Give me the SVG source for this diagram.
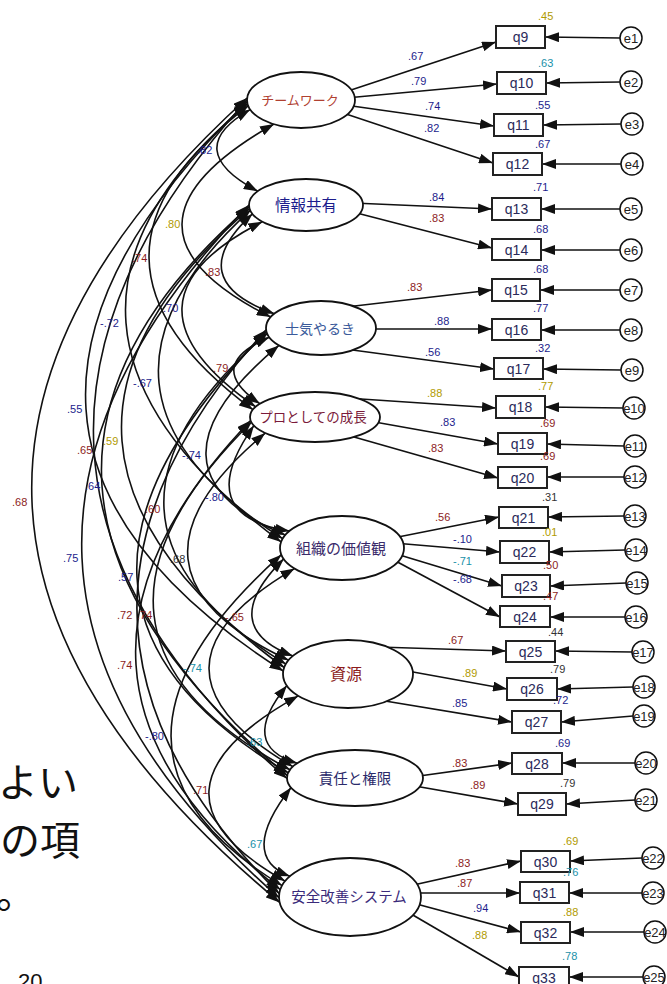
<svg xmlns="http://www.w3.org/2000/svg" width="667" height="984" viewBox="0 0 667 984">
<defs>
<marker id="ah" viewBox="0 0 14 10" refX="14" refY="5" markerWidth="14" markerHeight="10" markerUnits="userSpaceOnUse" orient="auto-start-reverse"><path d="M0,0 L14,5 L0,10 z" fill="#111"/></marker>
</defs>
<style>
.cv{fill:none;stroke:#111;stroke-width:1.6;marker-start:url(#ah);marker-end:url(#ah)}
.ld{fill:none;stroke:#111;stroke-width:1.7;marker-end:url(#ah)}
.lat{fill:#fff;stroke:#111;stroke-width:1.8}
.box{fill:#fff;stroke:#222;stroke-width:2}
.err{fill:#fff;stroke:#111;stroke-width:1.5}
text{font-family:"Liberation Sans",Arial,sans-serif}
.n{font-size:11px}
.bt{font-size:14px;text-anchor:middle;fill:#2a2a5a}
.et{font-size:13px;text-anchor:middle;fill:#222}
.jt{font-family:"Noto Sans CJK JP","Noto Sans CJK SC",sans-serif;text-anchor:middle}
.sl{font-family:"Noto Sans CJK JP","Noto Sans CJK SC",sans-serif;font-size:40px;fill:#111}
.cb{fill:#1c1c8c}.cr{fill:#8c1c1c}.cy{fill:#b09a00}.cc{fill:#1890a8}.ck{fill:#333}
</style>
<rect width="667" height="984" fill="#fff"/>
<g id="slide-text">
<text class="sl" x="-2" y="797">よい</text>
<text class="sl" x="0" y="855">の項</text>
<text class="sl" x="-4" y="908">。</text>
<text x="18" y="989" font-size="22" fill="#111">20</text>
</g>
<g id="connectors">
<path class="cv" d="M250.2,109.6 Q180,149.6 257.7,191.2"/>
<path class="cv" d="M274,124 Q91.7,227.5 270.7,317"/>
<path class="cv" d="M248.2,105.8 Q47.5,258.3 252.9,409.7"/>
<path class="cv" d="M247.5,103.9 Q-12.3,323.1 281.1,541.9"/>
<path class="cv" d="M247.1,102 Q-93.2,431.5 283.3,671"/>
<path class="cv" d="M247,100 Q-79,460.8 287,778.5"/>
<path class="cv" d="M247.1,98 Q-199.4,503.8 279.7,902.4"/>
<path class="cv" d="M252.4,213.9 Q180.6,280.2 274.4,313.7"/>
<path class="cv" d="M262.3,221.7 Q105,301.8 255.6,406.8"/>
<path class="cv" d="M250.3,210.4 Q51.5,391.5 282.7,538.7"/>
<path class="cv" d="M249.6,208.6 Q-22.9,444 284.2,667.5"/>
<path class="cv" d="M249.1,206.8 Q-64.2,480.8 287.3,775.6"/>
<path class="cv" d="M249,205 Q-100,564.7 279,897.7"/>
<path class="cv" d="M269.3,337.2 Q203.4,365.6 259.9,403.7"/>
<path class="cv" d="M278.9,345.4 Q129.9,469.8 285.3,535"/>
<path class="cv" d="M267.2,333.6 Q51.5,519.2 285.9,664.1"/>
<path class="cv" d="M266.5,331.8 Q-3.4,601.8 288.2,772.7"/>
<path class="cv" d="M266.1,329.9 Q1.3,618.3 279.3,893.6"/>
<path class="cv" d="M253.9,425.6 Q190.4,515.7 289.4,531"/>
<path class="cv" d="M265.2,433.1 Q99.1,571.4 288.6,660.2"/>
<path class="cv" d="M251.4,422.2 Q37.3,634 290,769.8"/>
<path class="cv" d="M250.6,420.5 Q6.6,675 280.3,889.6"/>
<path class="cv" d="M283.7,558.9 Q215.7,626.6 292.9,656"/>
<path class="cv" d="M294.5,568.6 Q124.4,668.4 292.8,766.6"/>
<path class="cv" d="M281.4,554.7 Q60.3,751.9 282.1,885.6"/>
<path class="cv" d="M286.9,685.6 Q237.9,745.6 297.3,763.2"/>
<path class="cv" d="M298.2,695.9 Q126.4,791.5 285.1,881.1"/>
<path class="cv" d="M291.1,787.6 Q237.6,856.1 289.8,876.3"/>
<path class="ld" d="M345,92 L496,42"/>
<path class="ld" d="M346,98 L497,84"/>
<path class="ld" d="M345,105 L494,126"/>
<path class="ld" d="M340,112 L493,163"/>
<path class="ld" d="M353,203 L492,209"/>
<path class="ld" d="M349,211 L492,248"/>
<path class="ld" d="M346,307 L492,290"/>
<path class="ld" d="M366,329 L492,329"/>
<path class="ld" d="M345,349 L494,369"/>
<path class="ld" d="M346,398 L496,408"/>
<path class="ld" d="M369,421 L498,444"/>
<path class="ld" d="M347,435 L498,478"/>
<path class="ld" d="M393,538 L499,517"/>
<path class="ld" d="M394,543 L500,552"/>
<path class="ld" d="M393,553 L502,586"/>
<path class="ld" d="M390,558 L500,617"/>
<path class="ld" d="M378,647 L506,651"/>
<path class="ld" d="M402,670 L507,689"/>
<path class="ld" d="M379,700 L512,722"/>
<path class="ld" d="M412,777 L512,763"/>
<path class="ld" d="M409,785 L518,804"/>
<path class="ld" d="M409,886 L521,861"/>
<path class="ld" d="M411,893 L520,893"/>
<path class="ld" d="M409,902 L521,932"/>
<path class="ld" d="M406,911 L519,977"/>
<path class="ld" d="M620,38 L545,37"/>
<path class="ld" d="M620,82 L546,83"/>
<path class="ld" d="M621,124 L543,125"/>
<path class="ld" d="M621,164 L542,164"/>
<path class="ld" d="M620,209 L541,209"/>
<path class="ld" d="M620,250 L541,250"/>
<path class="ld" d="M620,290 L540,290"/>
<path class="ld" d="M620,330 L541,330"/>
<path class="ld" d="M621,370 L543,369"/>
<path class="ld" d="M623,408 L545,407"/>
<path class="ld" d="M624,446 L547,444"/>
<path class="ld" d="M624,477 L547,477"/>
<path class="ld" d="M624,516 L548,517"/>
<path class="ld" d="M625,550 L549,552"/>
<path class="ld" d="M626,583 L550,586"/>
<path class="ld" d="M625,617 L550,617"/>
<path class="ld" d="M632,652 L555,651"/>
<path class="ld" d="M633,687 L557,689"/>
<path class="ld" d="M633,716 L561,722"/>
<path class="ld" d="M635,763 L562,763"/>
<path class="ld" d="M635,800 L566,804"/>
<path class="ld" d="M642,858 L570,861"/>
<path class="ld" d="M642,893 L569,893"/>
<path class="ld" d="M644,932 L570,932"/>
<path class="ld" d="M643,977 L569,977"/>
</g>
<g id="latent-teamwork"><ellipse class="lat" cx="301" cy="100" rx="54" ry="28"/><text class="jt" x="300" y="105" font-size="13" fill="#b04030">チームワーク</text></g>
<g id="latent-info"><ellipse class="lat" cx="306" cy="205" rx="57" ry="26"/><text class="jt" x="306" y="211" font-size="15.5" fill="#1c1c8c">情報共有</text></g>
<g id="latent-morale"><ellipse class="lat" cx="321" cy="328" rx="55" ry="27"/><text class="jt" x="320" y="334" font-size="14" fill="#3a5a9a">士気やるき</text></g>
<g id="latent-growth"><ellipse class="lat" cx="315" cy="417" rx="65" ry="25"/><text class="jt" x="313" y="422" font-size="13.5" fill="#7a1a3a">プロとしての成長</text></g>
<g id="latent-values"><ellipse class="lat" cx="342" cy="548" rx="62" ry="32"/><text class="jt" x="341" y="554" font-size="15" fill="#3a2a6a">組織の価値観</text></g>
<g id="latent-resources"><ellipse class="lat" cx="348" cy="674" rx="65" ry="34"/><text class="jt" x="346" y="680" font-size="16" fill="#8c1c1c">資源</text></g>
<g id="latent-authority"><ellipse class="lat" cx="355" cy="778" rx="68" ry="28"/><text class="jt" x="355" y="784" font-size="14.5" fill="#2a2a6a">責任と権限</text></g>
<g id="latent-safety"><ellipse class="lat" cx="350" cy="897" rx="71" ry="39"/><text class="jt" x="349" y="902" font-size="14.5" fill="#3a2a7a">安全改善システム</text></g>
<g id="q9"><rect class="box" x="496" y="26" width="49" height="22"/><text class="bt" x="520.5" y="42">q9</text></g>
<g id="q10"><rect class="box" x="497" y="72" width="49" height="22"/><text class="bt" x="521.5" y="88">q10</text></g>
<g id="q11"><rect class="box" x="494" y="114" width="49" height="22"/><text class="bt" x="518.5" y="130" fill="#6a1a1a">q11</text></g>
<g id="q12"><rect class="box" x="493" y="153" width="49" height="22"/><text class="bt" x="517.5" y="169" fill="#7a1a2a">q12</text></g>
<g id="q13"><rect class="box" x="492" y="198" width="49" height="22"/><text class="bt" x="516.5" y="214" fill="#9a1a1a">q13</text></g>
<g id="q14"><rect class="box" x="492" y="239" width="49" height="21"/><text class="bt" x="516.5" y="254.5" fill="#9a1a1a">q14</text></g>
<g id="q15"><rect class="box" x="492" y="279" width="48" height="22"/><text class="bt" x="516" y="295" fill="#6a1a1a">q15</text></g>
<g id="q16"><rect class="box" x="492" y="319" width="49" height="21"/><text class="bt" x="516.5" y="334.5" fill="#555">q16</text></g>
<g id="q17"><rect class="box" x="494" y="358" width="49" height="21"/><text class="bt" x="518.5" y="373.5">q17</text></g>
<g id="q18"><rect class="box" x="496" y="396" width="49" height="22"/><text class="bt" x="520.5" y="412">q18</text></g>
<g id="q19"><rect class="box" x="498" y="433" width="49" height="21"/><text class="bt" x="522.5" y="448.5">q19</text></g>
<g id="q20"><rect class="box" x="498" y="467" width="49" height="21"/><text class="bt" x="522.5" y="482.5">q20</text></g>
<g id="q21"><rect class="box" x="499" y="507" width="49" height="21"/><text class="bt" x="523.5" y="522.5">q21</text></g>
<g id="q22"><rect class="box" x="500" y="541" width="49" height="22"/><text class="bt" x="524.5" y="557">q22</text></g>
<g id="q23"><rect class="box" x="502" y="575" width="48" height="22"/><text class="bt" x="526" y="591">q23</text></g>
<g id="q24"><rect class="box" x="500" y="606" width="50" height="21"/><text class="bt" x="525" y="621.5">q24</text></g>
<g id="q25"><rect class="box" x="506" y="641" width="49" height="21"/><text class="bt" x="530.5" y="656.5" fill="#a06020">q25</text></g>
<g id="q26"><rect class="box" x="507" y="678" width="50" height="22"/><text class="bt" x="532" y="694" fill="#9a2a2a">q26</text></g>
<g id="q27"><rect class="box" x="512" y="711" width="49" height="22"/><text class="bt" x="536.5" y="727" fill="#6a1a1a">q27</text></g>
<g id="q28"><rect class="box" x="512" y="753" width="50" height="21"/><text class="bt" x="537" y="768.5" fill="#6a1a1a">q28</text></g>
<g id="q29"><rect class="box" x="518" y="793" width="48" height="22"/><text class="bt" x="542" y="809">q29</text></g>
<g id="q30"><rect class="box" x="521" y="851" width="49" height="21"/><text class="bt" x="545.5" y="866.5" fill="#1c1c8c">q30</text></g>
<g id="q31"><rect class="box" x="520" y="882" width="49" height="21"/><text class="bt" x="544.5" y="897.5">q31</text></g>
<g id="q32"><rect class="box" x="521" y="922" width="49" height="21"/><text class="bt" x="545.5" y="937.5">q32</text></g>
<g id="q33"><rect class="box" x="519" y="967" width="50" height="22"/><text class="bt" x="544" y="983">q33</text></g>
<g id="e1"><circle class="err" cx="631" cy="38" r="11"/><text class="et" x="631" y="43">e1</text></g>
<g id="e2"><circle class="err" cx="631" cy="82" r="11"/><text class="et" x="631" y="87">e2</text></g>
<g id="e3"><circle class="err" cx="632" cy="124" r="11"/><text class="et" x="632" y="129">e3</text></g>
<g id="e4"><circle class="err" cx="632" cy="164" r="11"/><text class="et" x="632" y="169">e4</text></g>
<g id="e5"><circle class="err" cx="631" cy="209" r="11"/><text class="et" x="631" y="214">e5</text></g>
<g id="e6"><circle class="err" cx="631" cy="250" r="11"/><text class="et" x="631" y="255">e6</text></g>
<g id="e7"><circle class="err" cx="631" cy="290" r="11"/><text class="et" x="631" y="295">e7</text></g>
<g id="e8"><circle class="err" cx="631" cy="330" r="11"/><text class="et" x="631" y="335">e8</text></g>
<g id="e9"><circle class="err" cx="632" cy="370" r="11"/><text class="et" x="632" y="375">e9</text></g>
<g id="e10"><circle class="err" cx="634" cy="408" r="11"/><text class="et" x="634" y="413">e10</text></g>
<g id="e11"><circle class="err" cx="635" cy="446" r="11"/><text class="et" x="635" y="451">e11</text></g>
<g id="e12"><circle class="err" cx="635" cy="477" r="11"/><text class="et" x="635" y="482">e12</text></g>
<g id="e13"><circle class="err" cx="635" cy="516" r="11"/><text class="et" x="635" y="521">e13</text></g>
<g id="e14"><circle class="err" cx="636" cy="550" r="11"/><text class="et" x="636" y="555">e14</text></g>
<g id="e15"><circle class="err" cx="637" cy="583" r="11"/><text class="et" x="637" y="588">e15</text></g>
<g id="e16"><circle class="err" cx="636" cy="617" r="11"/><text class="et" x="636" y="622">e16</text></g>
<g id="e17"><circle class="err" cx="643" cy="652" r="11"/><text class="et" x="643" y="657">e17</text></g>
<g id="e18"><circle class="err" cx="644" cy="687" r="11"/><text class="et" x="644" y="692">e18</text></g>
<g id="e19"><circle class="err" cx="644" cy="716" r="11"/><text class="et" x="644" y="721">e19</text></g>
<g id="e20"><circle class="err" cx="646" cy="763" r="11"/><text class="et" x="646" y="768">e20</text></g>
<g id="e21"><circle class="err" cx="646" cy="800" r="11"/><text class="et" x="646" y="805">e21</text></g>
<g id="e22"><circle class="err" cx="653" cy="858" r="11"/><text class="et" x="653" y="863">e22</text></g>
<g id="e23"><circle class="err" cx="653" cy="893" r="11"/><text class="et" x="653" y="898">e23</text></g>
<g id="e24"><circle class="err" cx="655" cy="932" r="11"/><text class="et" x="655" y="937">e24</text></g>
<g id="e25"><circle class="err" cx="654" cy="977" r="11"/><text class="et" x="654" y="982">e25</text></g>
<g id="labels" class="n">
<text x="538" y="20" class="cy">.45</text>
<text x="538" y="67" class="cc">.63</text>
<text x="535" y="109" class="cb">.55</text>
<text x="535" y="148" class="cb">.67</text>
<text x="533" y="191" class="cb">.71</text>
<text x="533" y="233" class="cb">.68</text>
<text x="533" y="273" class="cb">.68</text>
<text x="533" y="312" class="cb">.77</text>
<text x="535" y="352" class="cb">.32</text>
<text x="538" y="390" class="cy">.77</text>
<text x="540" y="427" class="cr">.69</text>
<text x="540" y="460" class="cr">.69</text>
<text x="542" y="501" class="ck">.31</text>
<text x="542" y="536" class="cy">.01</text>
<text x="543" y="569" class="cr">.50</text>
<text x="543" y="600" class="cr">.47</text>
<text x="548" y="636" class="ck">.44</text>
<text x="550" y="673" class="ck">.79</text>
<text x="553" y="704" class="cb">.72</text>
<text x="555" y="747" class="cb">.69</text>
<text x="560" y="787" class="ck">.79</text>
<text x="563" y="845" class="cy">.69</text>
<text x="563" y="876" class="cc">.76</text>
<text x="563" y="916" class="cy">.88</text>
<text x="562" y="960" class="cc">.78</text>
<text x="408" y="60" class="cb">.67</text>
<text x="411" y="85" class="cb">.79</text>
<text x="425" y="110" class="cb">.74</text>
<text x="424" y="132" class="cb">.82</text>
<text x="429" y="201" class="cb">.84</text>
<text x="429" y="222" class="cr">.83</text>
<text x="407" y="291" class="cr">.83</text>
<text x="434" y="325" class="cb">.88</text>
<text x="425" y="356" class="cb">.56</text>
<text x="427" y="397" class="cy">.88</text>
<text x="440" y="426" class="cb">.83</text>
<text x="428" y="452" class="cr">.83</text>
<text x="435" y="521" class="cr">.56</text>
<text x="453" y="543" class="cb">-.10</text>
<text x="453" y="565" class="cc">-.71</text>
<text x="453" y="583" class="cb">-.68</text>
<text x="448" y="644" class="cr">.67</text>
<text x="462" y="677" class="cy">.89</text>
<text x="452" y="707" class="cb">.85</text>
<text x="452" y="767" class="cr">.83</text>
<text x="470" y="789" class="cr">.89</text>
<text x="455" y="867" class="cr">.83</text>
<text x="457" y="887" class="cr">.87</text>
<text x="473" y="912" class="cb">.94</text>
<text x="472" y="939" class="cy">.88</text>
<text x="197" y="154" class="cb">.82</text>
<text x="165" y="228" class="cy">.80</text>
<text x="132" y="262" class="cr">.74</text>
<text x="205" y="276" class="cr">.83</text>
<text x="163" y="312" class="cb">.70</text>
<text x="213" y="372" class="cr">.79</text>
<text x="100" y="327" class="cb">-.72</text>
<text x="133" y="387" class="cb">-.67</text>
<text x="182" y="459" class="cb">-.74</text>
<text x="205" y="501" class="cb">-.80</text>
<text x="67" y="413" class="cb">.55</text>
<text x="77" y="454" class="cr">.65</text>
<text x="103" y="445" class="cy">.59</text>
<text x="85" y="490" class="cb">.64</text>
<text x="12" y="506" class="cr">.68</text>
<text x="145" y="513" class="cr">.60</text>
<text x="63" y="562" class="cb">.75</text>
<text x="170" y="563" class="ck">.68</text>
<text x="118" y="581" class="cb">.57</text>
<text x="225" y="621" class="cr">-.65</text>
<text x="117" y="619" class="cr">.72</text>
<text x="137" y="619" class="cr">.74</text>
<text x="117" y="669" class="cr">.74</text>
<text x="183" y="672" class="cc">-.74</text>
<text x="145" y="740" class="cb">-.80</text>
<text x="247" y="746" class="cc">.63</text>
<text x="193" y="794" class="cr">.71</text>
<text x="247" y="848" class="cc">.67</text>
</g>
</svg>
